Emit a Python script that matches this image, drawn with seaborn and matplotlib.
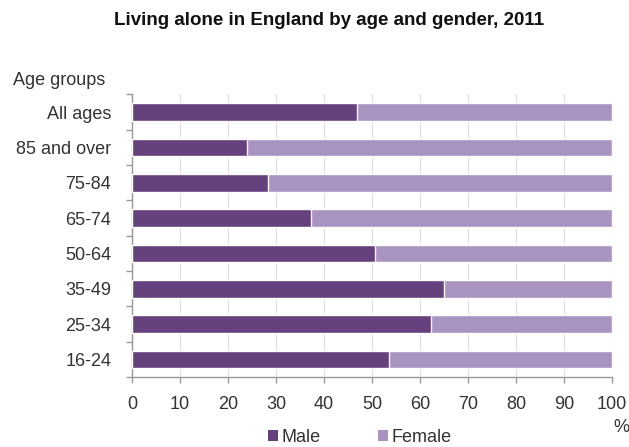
import matplotlib
matplotlib.use("Agg")
import matplotlib.pyplot as plt
from matplotlib.patches import Patch
import numpy as np
import pandas as pd
import seaborn as sns

age_groups = ["All ages", "85 and over", "75-84", "65-74", "50-64", "35-49", "25-34", "16-24"]
male = [46.8, 24.0, 28.3, 37.3, 50.6, 65.0, 62.2, 53.5]
female = [53.2, 76.0, 71.7, 62.7, 49.4, 35.0, 37.8, 46.5]
x_ticks = [0, 10, 20, 30, 40, 50, 60, 70, 80, 90, 100]

male_color = "#65417d"
female_color = "#a993c0"
text_color = "#333333"
fs = 13

sns.set_theme(style="white")
plt.rcParams["font.family"] = ["Liberation Sans", "DejaVu Sans"]

df = pd.DataFrame({
    "age": age_groups,
    "male": male,
    "total": np.array(male) + np.array(female),
})

fig = plt.figure(figsize=(6.29, 4.47), dpi=100)
ax = fig.add_axes([0.2099, 0.1566, 0.763, 0.632])

# stacked: full bar in female colour, male share drawn over it
sns.barplot(data=df, x="total", y="age", order=age_groups, color=female_color,
            width=0.5, saturation=1, ax=ax, zorder=2)
sns.barplot(data=df, x="male", y="age", order=age_groups, color=male_color,
            width=0.5, saturation=1, ax=ax, zorder=3)

ax.set_xlim(0, 100)
ax.set_ylim(len(age_groups) - 0.5, -0.5)
ax.set_xticks(x_ticks)
ax.set_xticklabels([str(t) for t in x_ticks], fontsize=fs, color=text_color)
ax.set_yticks(range(len(age_groups)))
ax.set_yticklabels(age_groups, fontsize=fs, color=text_color)
ax.set_xlabel("")
ax.set_ylabel("")

# vertical gridlines
ax.grid(axis="x", color="#dddddd", linewidth=0.8, zorder=0)
ax.grid(axis="y", visible=False)

for s in ["top", "right"]:
    ax.spines[s].set_visible(False)
for s in ["left", "bottom"]:
    ax.spines[s].set_visible(True)
    ax.spines[s].set_color("#999999")
    ax.spines[s].set_linewidth(1.0)

# category boundary ticks on the y axis
ax.tick_params(axis="y", which="major", length=0, pad=15)
ax.set_yticks(np.arange(-0.5, len(age_groups), 1), minor=True)
ax.tick_params(axis="y", which="minor", length=4, color="#999999", width=1, left=True)
ax.tick_params(axis="x", which="major", length=4, color="#999999", width=1, bottom=True, pad=10)

fig.text(0.523, 0.954, "Living alone in England by age and gender, 2011",
         ha="center", va="center", fontsize=13.5, fontweight="bold", color="#111111")
fig.text(0.021, 0.82, "Age groups", ha="left", va="center", fontsize=fs, color=text_color)
fig.text(0.988, 0.043, "%", ha="center", va="center", fontsize=fs, color=text_color)

handles = [Patch(facecolor=male_color, edgecolor="none", label="Male"),
           Patch(facecolor=female_color, edgecolor="none", label="Female")]
fig.legend(handles=handles, loc="center", bbox_to_anchor=(0.572, 0.022), ncol=2,
           frameon=False, fontsize=fs, handlelength=0.55, handleheight=0.55,
           handletextpad=0.2, columnspacing=3.15, labelcolor=text_color)

fig.savefig("out.png", dpi=100)
